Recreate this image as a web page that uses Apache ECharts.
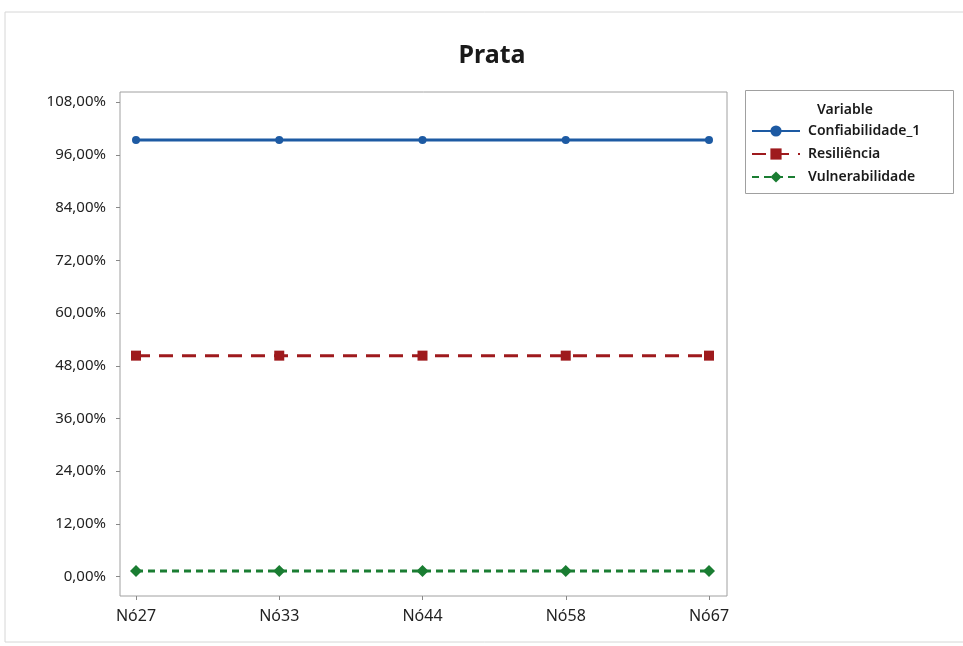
<!DOCTYPE html>
<html><head><meta charset="utf-8">
<script src="https://cdn.jsdelivr.net/npm/echarts@6/dist/echarts.min.js"></script>
<style>html,body{margin:0;padding:0;background:#fff}#c{width:963px;height:646px}</style>
</head><body><div id="c"></div>
<script>
const categories = ['Nó27', 'Nó33', 'Nó44', 'Nó58', 'Nó67'];
const confiabilidade = [99.35, 99.35, 99.35, 99.35, 99.35];
const resiliencia = [50.3, 50.3, 50.3, 50.3, 50.3];
const vulnerabilidade = [1.3, 1.3, 1.3, 1.3, 1.3];
const yTicks = [0, 12, 24, 36, 48, 60, 72, 84, 96, 108];
const seriesNames = ['Confiabilidade_1', 'Resiliência', 'Vulnerabilidade'];

const FONT = '"Noto Sans", "Open Sans", sans-serif';
const chart = echarts.init(document.getElementById('c'), null, {renderer: 'canvas'});
const fmt = v => v.toFixed(2).replace('.', ',') + '%';
chart.setOption({
  animation: false,
  backgroundColor: '#fff',
  textStyle: {fontFamily: FONT},
  graphic: [
    {type: 'rect', shape: {x: 5, y: 12, width: 975, height: 630}, style: {fill: 'none', stroke: '#d6d6d6', lineWidth: 1}, z: -10},
    {type: 'rect', shape: {x: 745.5, y: 90.5, width: 208, height: 103}, style: {fill: 'none', stroke: '#a0a0a0', lineWidth: 1}, z: -5}
  ],
  title: [
    {text: 'Prata', left: 487, top: 38, textAlign: 'center', textStyle: {fontFamily: FONT, fontSize: 25, fontWeight: 'bold', color: '#1a1a1a'}},
    {text: 'Variable', left: 812, top: 98, textStyle: {fontFamily: FONT, fontSize: 14, fontWeight: 600, color: '#1a1a1a'}}
  ],
  legend: {
    orient: 'vertical', left: 745, top: 90,
    padding: [34, 10, 9, 6], itemGap: 9, itemWidth: 48, itemHeight: 14,
    textStyle: {fontFamily: FONT, fontSize: 14, fontWeight: 600, color: '#1a1a1a', padding: [0, 0, 0, 3], lineHeight: 14},
    data: seriesNames
  },
  grid: [
    {left: 136, right: 254, top: 92, bottom: 50},
    {left: 120, right: 236, top: 92, bottom: 50, show: true, borderColor: '#a0a0a0', borderWidth: 1, backgroundColor: 'transparent'}
  ],
  xAxis: [
    {type: 'category', data: categories, boundaryGap: false, gridIndex: 0,
     axisLine: {show: false, onZero: false}, axisTick: {show: true, alignWithLabel: true, length: 4, lineStyle: {color: '#888'}},
     axisLabel: {fontFamily: FONT, fontSize: 16, color: '#222', margin: 12}, splitLine: {show: false}},
    {type: 'value', gridIndex: 1, show: false}
  ],
  yAxis: [
    {type: 'value', gridIndex: 0, min: -4.4, max: 110.3, offset: 16,
     axisLine: {show: false},
     axisTick: {show: true, customValues: yTicks, length: 4, lineStyle: {color: '#888'}},
     axisLabel: {customValues: yTicks, formatter: fmt, fontFamily: FONT, fontSize: 15, color: '#222', margin: 14},
     splitLine: {show: false}},
    {type: 'value', gridIndex: 1, show: false}
  ],
  series: [
    {name: seriesNames[0], type: 'line', data: confiabilidade, symbol: 'circle', symbolSize: 8,
     itemStyle: {color: '#1d5aa3'}, lineStyle: {width: 3, color: '#1d5aa3'}},
    {name: seriesNames[1], type: 'line', data: resiliencia, symbol: 'rect', symbolSize: 10,
     itemStyle: {color: '#9e1a1d'}, lineStyle: {width: 3, color: '#9e1a1d', type: [14, 9]}},
    {name: seriesNames[2], type: 'line', data: vulnerabilidade, symbol: 'diamond', symbolSize: 12,
     itemStyle: {color: '#1a7d32'}, lineStyle: {width: 3, color: '#1a7d32', type: [7, 5]}}
  ]
});
</script></body></html>
